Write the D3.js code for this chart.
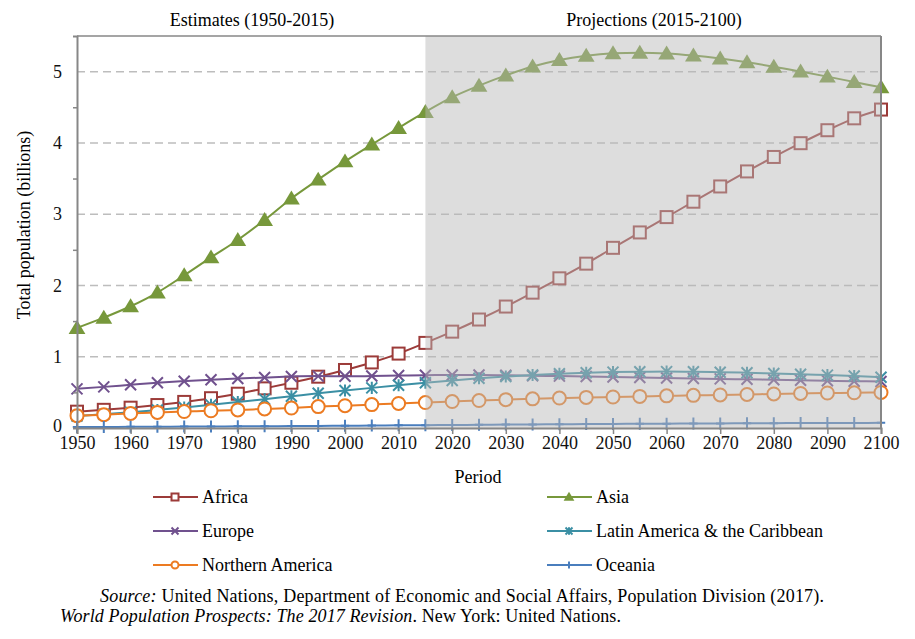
<!DOCTYPE html>
<html>
<head>
<meta charset="utf-8">
<script src="https://cdn.jsdelivr.net/npm/d3@7"></script>
<style>
  body { margin: 0; background: #fff; }
  svg { font-family: "Liberation Serif", "Times New Roman", serif; }
</style>
</head>
<body>
<script>
// Periodos (cada 5 años)
const anios = [1950, 1955, 1960, 1965, 1970, 1975, 1980, 1985, 1990, 1995, 2000, 2005, 2010, 2015,
  2020, 2025, 2030, 2035, 2040, 2045, 2050, 2055, 2060, 2065, 2070, 2075, 2080, 2085, 2090, 2095, 2100];

// Población total por región (miles de millones)
const africa = [0.229, 0.255, 0.285, 0.322, 0.366, 0.418, 0.481, 0.556, 0.635, 0.720, 0.814, 0.920, 1.044, 1.194,
  1.352, 1.522, 1.704, 1.899, 2.100, 2.306, 2.528, 2.744, 2.959, 3.175, 3.389, 3.600, 3.803, 3.996, 4.178, 4.345, 4.468];
const asia = [1.404, 1.548, 1.708, 1.901, 2.142, 2.394, 2.638, 2.919, 3.221, 3.485, 3.741, 3.978, 4.210, 4.434,
  4.641, 4.803, 4.947, 5.071, 5.164, 5.224, 5.257, 5.266, 5.255, 5.225, 5.183, 5.131, 5.070, 5.001, 4.930, 4.855, 4.780];
const europa = [0.549, 0.577, 0.606, 0.635, 0.657, 0.677, 0.694, 0.708, 0.722, 0.728, 0.726, 0.729, 0.736, 0.741,
  0.743, 0.743, 0.739, 0.734, 0.728, 0.722, 0.716, 0.709, 0.702, 0.695, 0.689, 0.683, 0.676, 0.669, 0.662, 0.657, 0.653];
const latam = [0.169, 0.194, 0.220, 0.253, 0.287, 0.325, 0.364, 0.405, 0.446, 0.487, 0.526, 0.563, 0.599, 0.634,
  0.667, 0.697, 0.722, 0.744, 0.762, 0.775, 0.784, 0.789, 0.791, 0.789, 0.783, 0.775, 0.765, 0.754, 0.742, 0.730, 0.712];
const norteamerica = [0.173, 0.187, 0.204, 0.219, 0.231, 0.242, 0.254, 0.267, 0.280, 0.300, 0.313, 0.328, 0.344, 0.357,
  0.371, 0.385, 0.398, 0.409, 0.420, 0.429, 0.435, 0.443, 0.451, 0.458, 0.464, 0.471, 0.478, 0.485, 0.491, 0.494, 0.499];
const oceania = [0.013, 0.014, 0.016, 0.018, 0.020, 0.021, 0.023, 0.025, 0.027, 0.029, 0.031, 0.034, 0.037, 0.040,
  0.042, 0.045, 0.048, 0.050, 0.053, 0.055, 0.057, 0.059, 0.061, 0.063, 0.064, 0.066, 0.068, 0.069, 0.070, 0.071, 0.072];

const ticksX = [1950, 1960, 1970, 1980, 1990, 2000, 2010, 2020, 2030, 2040, 2050, 2060, 2070, 2080, 2090, 2100];
const ticksY = [0, 1, 2, 3, 4, 5];

const series = [
  { nombre: "Africa", valores: africa, color: "#9c3b39", marca: "cuadrado" },
  { nombre: "Asia", valores: asia, color: "#77983b", marca: "triangulo" },
  { nombre: "Europe", valores: europa, color: "#70518e", marca: "equis" },
  { nombre: "Latin America & the Caribbean", valores: latam, color: "#3b8fa4", marca: "asterisco" },
  { nombre: "Northern America", valores: norteamerica, color: "#ec7b22", marca: "circulo" },
  { nombre: "Oceania", valores: oceania, color: "#4a7ebd", marca: "mas" }
];

const ancho = 915, alto = 639;
const letra = 18;
const svg = d3.select("body").append("svg").attr("width", ancho).attr("height", alto);

// Escalas
const x = d3.scaleLinear().domain([1950, 2100]).range([77, 881]);
const y = d3.scaleLinear().domain([0, 5.5]).range([428, 36]);

// Líneas de cuadrícula punteadas
svg.append("g")
  .selectAll("line")
  .data(ticksY.filter(d => d > 0))
  .join("line")
  .attr("x1", x(1950)).attr("x2", x(2100))
  .attr("y1", d => y(d)).attr("y2", d => y(d))
  .attr("stroke", "#bdbdbd").attr("stroke-width", 1.5)
  .attr("stroke-dasharray", "8,5");

// Dibuja un marcador en (0,0) según el tipo
function marcador(g, tipo, color, s) {
  if (tipo === "cuadrado") {
    g.append("rect").attr("x", -s / 2).attr("y", -s / 2).attr("width", s).attr("height", s)
      .attr("fill", "#fff").attr("stroke", color).attr("stroke-width", 2);
  } else if (tipo === "triangulo") {
    const h = s * 0.95;
    g.append("path").attr("d", `M0,${-h * 0.6}L${s * 0.6},${h * 0.45}L${-s * 0.6},${h * 0.45}Z`)
      .attr("fill", color);
  } else if (tipo === "circulo") {
    g.append("circle").attr("r", s / 2).attr("fill", "#fff").attr("stroke", color).attr("stroke-width", 2);
  } else if (tipo === "equis") {
    const r = s / 2;
    g.append("path").attr("d", `M${-r},${-r}L${r},${r}M${-r},${r}L${r},${-r}`)
      .attr("stroke", color).attr("stroke-width", 2);
  } else if (tipo === "asterisco") {
    const r = s / 2;
    g.append("path").attr("d", `M${-r},${-r}L${r},${r}M${-r},${r}L${r},${-r}M0,${-r * 1.1}L0,${r * 1.1}`)
      .attr("stroke", color).attr("stroke-width", 2);
  } else if (tipo === "mas") {
    const r = s / 2;
    g.append("path").attr("d", `M0,${-r}L0,${r}M${-r * 0.7},0L${r * 0.7},0`)
      .attr("stroke", color).attr("stroke-width", 2);
  }
}

const linea = d3.line()
  .x((d, i) => x(anios[i]))
  .y(d => y(d))
  .curve(d3.curveMonotoneX);

const tamanos = { cuadrado: 12, triangulo: 14, equis: 11, asterisco: 11, circulo: 13, mas: 12 };

// Series
series.forEach(s => {
  const g = svg.append("g");
  g.append("path")
    .attr("d", linea(s.valores))
    .attr("fill", "none")
    .attr("stroke", s.color)
    .attr("stroke-width", 2);
  g.selectAll("g.m")
    .data(s.valores)
    .join("g")
    .attr("class", "m")
    .attr("transform", (d, i) => `translate(${x(anios[i])},${y(d)})`)
    .each(function () { marcador(d3.select(this), s.marca, s.color, tamanos[s.marca]); });
});

// Zona de proyecciones (sombreado semitransparente)
svg.append("rect")
  .attr("x", x(2015)).attr("y", y(5.5))
  .attr("width", x(2100) - x(2015)).attr("height", y(0) - y(5.5))
  .attr("fill", "#b8b8b8").attr("fill-opacity", 0.48);

// Marco y ejes
const gris = "#878787";
svg.append("line").attr("x1", x(1950)).attr("x2", x(2100)).attr("y1", y(5.5)).attr("y2", y(5.5))
  .attr("stroke", gris).attr("stroke-width", 1.5);
svg.append("line").attr("x1", x(2100)).attr("x2", x(2100)).attr("y1", y(5.5)).attr("y2", y(0))
  .attr("stroke", gris).attr("stroke-width", 2);

const ejeX = svg.append("g")
  .attr("transform", `translate(0,${y(0)})`)
  .call(d3.axisBottom(x).tickValues(ticksX).tickFormat(d3.format("d")).tickSize(6).tickPadding(2));
const ejeY = svg.append("g")
  .attr("transform", `translate(${x(1950)},0)`)
  .call(d3.axisLeft(y).tickValues(d3.range(0, 5.5, 0.5)).tickFormat(d => Number.isInteger(d) ? d : "").tickSize(4).tickPadding(11));

[ejeX, ejeY].forEach(e => {
  e.select(".domain").attr("stroke", gris).attr("stroke-width", 2);
  e.selectAll(".tick line").attr("stroke", gris).attr("stroke-width", 1.5);
  e.selectAll(".tick text").attr("font-size", letra).attr("fill", "#111")
    .attr("font-family", "Liberation Serif, serif");
});
// Los ticks enteros del eje Y no se ven (coinciden con la cuadrícula)
ejeY.selectAll(".tick").filter(d => Number.isInteger(d)).select("line").attr("stroke-opacity", 0);
// El "0" queda un poco más arriba para no pisar el "1950"
ejeY.selectAll(".tick").filter(d => d === 0).select("text").attr("dy", "0.22em");

// Títulos
svg.append("text").attr("x", 252).attr("y", 26).attr("text-anchor", "middle")
  .attr("font-size", letra).text("Estimates (1950-2015)");
svg.append("text").attr("x", 654).attr("y", 26).attr("text-anchor", "middle")
  .attr("font-size", letra).text("Projections (2015-2100)");
svg.append("text").attr("x", 478).attr("y", 483).attr("text-anchor", "middle")
  .attr("font-size", letra).text("Period");
svg.append("text").attr("transform", "translate(30,225) rotate(-90)").attr("text-anchor", "middle")
  .attr("font-size", letra).text("Total population (billions)");

// Leyenda
const leyenda = svg.append("g")
  .selectAll("g")
  .data(series)
  .join("g")
  .attr("transform", (d, i) => `translate(${i % 2 === 0 ? 153 : 547},${497 + Math.floor(i / 2) * 34})`);
leyenda.append("line").attr("x1", 0).attr("x2", 45).attr("stroke", d => d.color).attr("stroke-width", 2);
leyenda.append("g").attr("transform", "translate(22,0)")
  .each(function (d) { marcador(d3.select(this), d.marca, d.color, d.marca === "triangulo" ? 9 : 7); });
leyenda.append("text").attr("x", 49).attr("y", 6).attr("font-size", letra).text(d => d.nombre);

// Fuente
const f1 = svg.append("text").attr("x", 100).attr("y", 602).attr("font-size", letra)
  .attr("textLength", 724).attr("lengthAdjust", "spacing");
f1.append("tspan").attr("font-style", "italic").text("Source:");
f1.append("tspan").text(" United Nations, Department of Economic and Social Affairs, Population Division (2017).");
const f2 = svg.append("text").attr("x", 60).attr("y", 622).attr("font-size", letra)
  .attr("textLength", 561).attr("lengthAdjust", "spacing");
f2.append("tspan").attr("font-style", "italic").text("World Population Prospects: The 2017 Revision");
f2.append("tspan").text(". New York: United Nations.");
</script>
</body>
</html>
